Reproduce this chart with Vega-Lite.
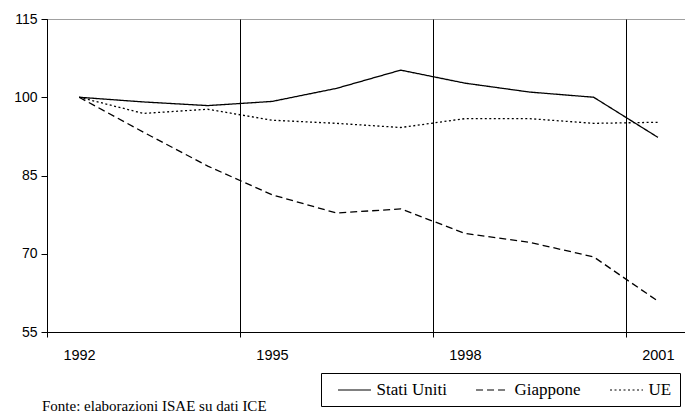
{
  "$schema": "https://vega.github.io/schema/vega-lite/v6.json",
  "width": 638,
  "height": 313,
  "autosize": {"type": "none"},
  "padding": {"left": 47, "top": 19, "right": 0, "bottom": 82},
  "background": "white",
  "title": {
    "text": "Fonte: elaborazioni ISAE su dati ICE",
    "orient": "bottom",
    "anchor": "start",
    "frame": "group",
    "font": "Liberation Serif, Times New Roman, serif",
    "fontSize": 15,
    "fontWeight": "normal",
    "color": "black",
    "dx": -5,
    "offset": -8
  },
  "config": {
    "view": {"stroke": "#a0a0a0", "strokeWidth": 1},
    "axis": {
      "labelFont": "Liberation Sans, Arial, sans-serif",
      "labelFontSize": 14.5,
      "labelColor": "black",
      "domainColor": "black",
      "tickColor": "black",
      "title": null
    }
  },
  "data": {
    "values": [
      {"year": 1992, "paese": "Stati Uniti", "valore": 100},
      {"year": 1993, "paese": "Stati Uniti", "valore": 99.1},
      {"year": 1994, "paese": "Stati Uniti", "valore": 98.4},
      {"year": 1995, "paese": "Stati Uniti", "valore": 99.2},
      {"year": 1996, "paese": "Stati Uniti", "valore": 101.7},
      {"year": 1997, "paese": "Stati Uniti", "valore": 105.2},
      {"year": 1998, "paese": "Stati Uniti", "valore": 102.7},
      {"year": 1999, "paese": "Stati Uniti", "valore": 101.0},
      {"year": 2000, "paese": "Stati Uniti", "valore": 100.0},
      {"year": 2001, "paese": "Stati Uniti", "valore": 92.3},
      {"year": 1992, "paese": "Giappone", "valore": 100},
      {"year": 1993, "paese": "Giappone", "valore": 93.3},
      {"year": 1994, "paese": "Giappone", "valore": 86.8},
      {"year": 1995, "paese": "Giappone", "valore": 81.3},
      {"year": 1996, "paese": "Giappone", "valore": 77.8},
      {"year": 1997, "paese": "Giappone", "valore": 78.6},
      {"year": 1998, "paese": "Giappone", "valore": 73.9},
      {"year": 1999, "paese": "Giappone", "valore": 72.2},
      {"year": 2000, "paese": "Giappone", "valore": 69.4},
      {"year": 2001, "paese": "Giappone", "valore": 60.9},
      {"year": 1992, "paese": "UE", "valore": 100},
      {"year": 1993, "paese": "UE", "valore": 96.9},
      {"year": 1994, "paese": "UE", "valore": 97.7},
      {"year": 1995, "paese": "UE", "valore": 95.6},
      {"year": 1996, "paese": "UE", "valore": 95.0},
      {"year": 1997, "paese": "UE", "valore": 94.2},
      {"year": 1998, "paese": "UE", "valore": 95.9},
      {"year": 1999, "paese": "UE", "valore": 95.9},
      {"year": 2000, "paese": "UE", "valore": 95.0},
      {"year": 2001, "paese": "UE", "valore": 95.2}
    ]
  },
  "mark": {"type": "line", "color": "black", "strokeWidth": 1.3},
  "encoding": {
    "x": {
      "field": "year",
      "type": "quantitative",
      "scale": {"domain": [1991.5, 2001.42], "nice": false, "zero": false},
      "axis": {
        "values": [1991.5, 1994.5, 1997.5, 2000.5],
        "labelExpr": "datum.value + 0.5",
        "labelOffset": 32,
        "labelPadding": 11,
        "grid": true,
        "gridColor": "black",
        "gridWidth": 1,
        "gridOpacity": 1,
        "tickSize": 5,
        "labelFlush": false
      }
    },
    "y": {
      "field": "valore",
      "type": "quantitative",
      "scale": {"domain": [55, 115], "nice": false, "zero": false},
      "axis": {
        "values": [55, 70, 85, 100, 115],
        "grid": false,
        "tickSize": 6,
        "labelPadding": 4,
        "labelFontSize": 14
      }
    },
    "strokeDash": {
      "field": "paese",
      "type": "nominal",
      "scale": {
        "domain": ["Stati Uniti", "Giappone", "UE"],
        "range": [[1, 0], [7, 4], [2, 2.5]]
      },
      "legend": {
        "title": null,
        "orient": "none",
        "legendX": 274,
        "legendY": 354,
        "direction": "horizontal",
        "strokeColor": "black",
        "padding": 8,
        "symbolType": "M-2.06,0H2.06",
        "symbolSize": 256,
        "symbolOffset": 16.5,
        "symbolStrokeColor": "black",
        "symbolStrokeWidth": 1.2,
        "labelFont": "Liberation Serif, Times New Roman, serif",
        "labelFontSize": 17,
        "labelColor": "black",
        "labelOffset": 13,
        "columnPadding": 20
      }
    }
  }
}
